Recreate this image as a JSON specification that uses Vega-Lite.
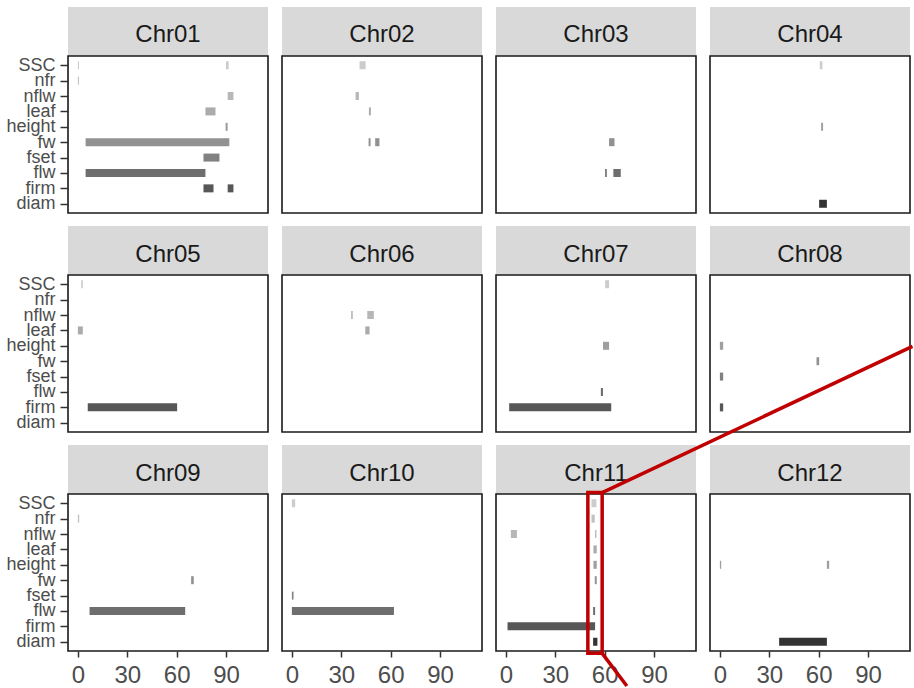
{
  "$schema": "https://vega.github.io/schema/vega-lite/v6.json",
  "padding": {"left": 5, "top": 7, "right": 0, "bottom": 0},
  "background": "white",
  "bounds": "flush",
  "columns": 4,
  "spacing": {"row": 0, "column": 14},
  "resolve": {"scale": {"x": "independent", "y": "independent"}},
  "data": {"values": [
    {"chr": "Chr01", "kind": "strip"}, {"chr": "Chr02", "kind": "strip"}, {"chr": "Chr03", "kind": "strip"}, {"chr": "Chr04", "kind": "strip"},
    {"chr": "Chr05", "kind": "strip"}, {"chr": "Chr06", "kind": "strip"}, {"chr": "Chr07", "kind": "strip"}, {"chr": "Chr08", "kind": "strip"},
    {"chr": "Chr09", "kind": "strip"}, {"chr": "Chr10", "kind": "strip"}, {"chr": "Chr11", "kind": "strip"}, {"chr": "Chr12", "kind": "strip"},
    {"chr": "Chr11", "kind": "zoom", "start": 49.8, "end": 58.5},
    {"chr": "Chr01", "kind": "seg", "trait": "SSC", "start": 0, "end": 0.7},
    {"chr": "Chr01", "kind": "seg", "trait": "SSC", "start": 90, "end": 91.6},
    {"chr": "Chr01", "kind": "seg", "trait": "nfr", "start": 0, "end": 0.7},
    {"chr": "Chr01", "kind": "seg", "trait": "nflw", "start": 91, "end": 94.5},
    {"chr": "Chr01", "kind": "seg", "trait": "leaf", "start": 77.5, "end": 83.6},
    {"chr": "Chr01", "kind": "seg", "trait": "height", "start": 89.7, "end": 91},
    {"chr": "Chr01", "kind": "seg", "trait": "fw", "start": 4.7, "end": 92},
    {"chr": "Chr01", "kind": "seg", "trait": "fset", "start": 76.3, "end": 86},
    {"chr": "Chr01", "kind": "seg", "trait": "flw", "start": 4.7, "end": 77.5},
    {"chr": "Chr01", "kind": "seg", "trait": "firm", "start": 76.3, "end": 82.4},
    {"chr": "Chr01", "kind": "seg", "trait": "firm", "start": 91, "end": 94.5},
    {"chr": "Chr02", "kind": "seg", "trait": "SSC", "start": 41.1, "end": 44.8},
    {"chr": "Chr02", "kind": "seg", "trait": "nflw", "start": 38.7, "end": 40.7},
    {"chr": "Chr02", "kind": "seg", "trait": "leaf", "start": 46.8, "end": 48},
    {"chr": "Chr02", "kind": "seg", "trait": "fw", "start": 46.6, "end": 47.8},
    {"chr": "Chr02", "kind": "seg", "trait": "fw", "start": 50.6, "end": 53.2},
    {"chr": "Chr03", "kind": "seg", "trait": "fw", "start": 62.7, "end": 66},
    {"chr": "Chr03", "kind": "seg", "trait": "flw", "start": 60.3, "end": 61.3},
    {"chr": "Chr03", "kind": "seg", "trait": "flw", "start": 65.3, "end": 69.8},
    {"chr": "Chr04", "kind": "seg", "trait": "SSC", "start": 60.7, "end": 62.3},
    {"chr": "Chr04", "kind": "seg", "trait": "height", "start": 61.5, "end": 62.7},
    {"chr": "Chr04", "kind": "seg", "trait": "diam", "start": 60.3, "end": 65},
    {"chr": "Chr05", "kind": "seg", "trait": "SSC", "start": 2, "end": 3},
    {"chr": "Chr05", "kind": "seg", "trait": "leaf", "start": 0, "end": 3},
    {"chr": "Chr05", "kind": "seg", "trait": "firm", "start": 6, "end": 60.3},
    {"chr": "Chr06", "kind": "seg", "trait": "nflw", "start": 36, "end": 37},
    {"chr": "Chr06", "kind": "seg", "trait": "nflw", "start": 45.8, "end": 49.8},
    {"chr": "Chr06", "kind": "seg", "trait": "leaf", "start": 44.6, "end": 47.2},
    {"chr": "Chr07", "kind": "seg", "trait": "SSC", "start": 60.3, "end": 62.7},
    {"chr": "Chr07", "kind": "seg", "trait": "height", "start": 59, "end": 62.7},
    {"chr": "Chr07", "kind": "seg", "trait": "flw", "start": 57.7, "end": 59},
    {"chr": "Chr07", "kind": "seg", "trait": "firm", "start": 2, "end": 64},
    {"chr": "Chr08", "kind": "seg", "trait": "height", "start": 0, "end": 2},
    {"chr": "Chr08", "kind": "seg", "trait": "fw", "start": 58.7, "end": 60.3},
    {"chr": "Chr08", "kind": "seg", "trait": "fset", "start": 0, "end": 2},
    {"chr": "Chr08", "kind": "seg", "trait": "firm", "start": 0, "end": 2},
    {"chr": "Chr09", "kind": "seg", "trait": "nfr", "start": 0, "end": 0.8},
    {"chr": "Chr09", "kind": "seg", "trait": "fw", "start": 68.8, "end": 70.4},
    {"chr": "Chr09", "kind": "seg", "trait": "flw", "start": 7.1, "end": 65.2},
    {"chr": "Chr10", "kind": "seg", "trait": "SSC", "start": 0, "end": 2},
    {"chr": "Chr10", "kind": "seg", "trait": "fset", "start": 0, "end": 1},
    {"chr": "Chr10", "kind": "seg", "trait": "flw", "start": 0, "end": 62},
    {"chr": "Chr11", "kind": "seg", "trait": "SSC", "start": 52, "end": 55},
    {"chr": "Chr11", "kind": "seg", "trait": "nfr", "start": 52, "end": 54},
    {"chr": "Chr11", "kind": "seg", "trait": "nflw", "start": 3, "end": 6.7},
    {"chr": "Chr11", "kind": "seg", "trait": "nflw", "start": 54.2, "end": 55},
    {"chr": "Chr11", "kind": "seg", "trait": "leaf", "start": 53.2, "end": 55.2},
    {"chr": "Chr11", "kind": "seg", "trait": "height", "start": 53.2, "end": 55.2},
    {"chr": "Chr11", "kind": "seg", "trait": "fw", "start": 54, "end": 55.2},
    {"chr": "Chr11", "kind": "seg", "trait": "flw", "start": 53, "end": 54.2},
    {"chr": "Chr11", "kind": "seg", "trait": "firm", "start": 1, "end": 54.2},
    {"chr": "Chr11", "kind": "seg", "trait": "diam", "start": 53, "end": 55.6},
    {"chr": "Chr12", "kind": "seg", "trait": "height", "start": 0, "end": 0.8},
    {"chr": "Chr12", "kind": "seg", "trait": "height", "start": 65, "end": 66.4},
    {"chr": "Chr12", "kind": "seg", "trait": "diam", "start": 36, "end": 65}
  ]},
  "concat": [
    {"width": 200, "height": 49, "view": {"stroke": null}, "transform": [{"filter": "datum.kind === 'strip' && datum.chr === 'Chr01'"}], "layer": [
      {"mark": {"type": "rect", "fill": "#D9D9D9"}, "encoding": {"x": {"datum": 0, "type": "quantitative", "scale": {"domain": [0, 1]}, "axis": null}, "x2": {"datum": 1}, "y": {"datum": 0, "type": "quantitative", "scale": {"domain": [0, 1]}, "axis": null}, "y2": {"datum": 1}}},
      {"mark": {"type": "text", "fontSize": 24, "color": "#1A1A1A"}, "encoding": {"x": {"datum": 0.5, "type": "quantitative"}, "y": {"datum": 0.42, "type": "quantitative"}, "text": {"field": "chr"}}}]},
    {"width": 200, "height": 49, "view": {"stroke": null}, "transform": [{"filter": "datum.kind === 'strip' && datum.chr === 'Chr02'"}], "layer": [
      {"mark": {"type": "rect", "fill": "#D9D9D9"}, "encoding": {"x": {"datum": 0, "type": "quantitative", "scale": {"domain": [0, 1]}, "axis": null}, "x2": {"datum": 1}, "y": {"datum": 0, "type": "quantitative", "scale": {"domain": [0, 1]}, "axis": null}, "y2": {"datum": 1}}},
      {"mark": {"type": "text", "fontSize": 24, "color": "#1A1A1A"}, "encoding": {"x": {"datum": 0.5, "type": "quantitative"}, "y": {"datum": 0.42, "type": "quantitative"}, "text": {"field": "chr"}}}]},
    {"width": 200, "height": 49, "view": {"stroke": null}, "transform": [{"filter": "datum.kind === 'strip' && datum.chr === 'Chr03'"}], "layer": [
      {"mark": {"type": "rect", "fill": "#D9D9D9"}, "encoding": {"x": {"datum": 0, "type": "quantitative", "scale": {"domain": [0, 1]}, "axis": null}, "x2": {"datum": 1}, "y": {"datum": 0, "type": "quantitative", "scale": {"domain": [0, 1]}, "axis": null}, "y2": {"datum": 1}}},
      {"mark": {"type": "text", "fontSize": 24, "color": "#1A1A1A"}, "encoding": {"x": {"datum": 0.5, "type": "quantitative"}, "y": {"datum": 0.42, "type": "quantitative"}, "text": {"field": "chr"}}}]},
    {"width": 200, "height": 49, "view": {"stroke": null}, "transform": [{"filter": "datum.kind === 'strip' && datum.chr === 'Chr04'"}], "layer": [
      {"mark": {"type": "rect", "fill": "#D9D9D9"}, "encoding": {"x": {"datum": 0, "type": "quantitative", "scale": {"domain": [0, 1]}, "axis": null}, "x2": {"datum": 1}, "y": {"datum": 0, "type": "quantitative", "scale": {"domain": [0, 1]}, "axis": null}, "y2": {"datum": 1}}},
      {"mark": {"type": "text", "fontSize": 24, "color": "#1A1A1A"}, "encoding": {"x": {"datum": 0.5, "type": "quantitative"}, "y": {"datum": 0.42, "type": "quantitative"}, "text": {"field": "chr"}}}]},

    {"width": 200, "height": 157, "transform": [{"filter": "datum.kind === 'seg' && datum.chr === 'Chr01'"}], "mark": {"type": "rule", "strokeWidth": 8},
     "encoding": {"x": {"field": "start", "type": "quantitative", "scale": {"domain": [-6, 115.5], "nice": false, "zero": false}, "axis": null}, "x2": {"field": "end"},
      "y": {"field": "trait", "type": "nominal", "scale": {"type": "point", "padding": 0.6, "domain": ["SSC", "nfr", "nflw", "leaf", "height", "fw", "fset", "flw", "firm", "diam"]}, "axis": {"title": null, "labelOverlap": false}},
      "color": {"field": "trait", "type": "nominal", "legend": null, "scale": {"domain": ["diam", "firm", "flw", "fset", "fw", "height", "leaf", "nflw", "nfr", "SSC"], "range": ["#333333", "#575757", "#6E6E6E", "#818181", "#919191", "#9F9F9F", "#ABABAB", "#B7B7B7", "#C2C2C2", "#CCCCCC"]}}}},
    {"width": 200, "height": 157, "transform": [{"filter": "datum.kind === 'seg' && datum.chr === 'Chr02'"}], "mark": {"type": "rule", "strokeWidth": 8},
     "encoding": {"x": {"field": "start", "type": "quantitative", "scale": {"domain": [-6, 115.5], "nice": false, "zero": false}, "axis": null}, "x2": {"field": "end"},
      "y": {"field": "trait", "type": "nominal", "scale": {"type": "point", "padding": 0.6, "domain": ["SSC", "nfr", "nflw", "leaf", "height", "fw", "fset", "flw", "firm", "diam"]}, "axis": null},
      "color": {"field": "trait", "type": "nominal", "legend": null}}},
    {"width": 200, "height": 157, "transform": [{"filter": "datum.kind === 'seg' && datum.chr === 'Chr03'"}], "mark": {"type": "rule", "strokeWidth": 8},
     "encoding": {"x": {"field": "start", "type": "quantitative", "scale": {"domain": [-6, 115.5], "nice": false, "zero": false}, "axis": null}, "x2": {"field": "end"},
      "y": {"field": "trait", "type": "nominal", "scale": {"type": "point", "padding": 0.6, "domain": ["SSC", "nfr", "nflw", "leaf", "height", "fw", "fset", "flw", "firm", "diam"]}, "axis": null},
      "color": {"field": "trait", "type": "nominal", "legend": null}}},
    {"width": 200, "height": 157, "transform": [{"filter": "datum.kind === 'seg' && datum.chr === 'Chr04'"}], "mark": {"type": "rule", "strokeWidth": 8},
     "encoding": {"x": {"field": "start", "type": "quantitative", "scale": {"domain": [-6, 115.5], "nice": false, "zero": false}, "axis": null}, "x2": {"field": "end"},
      "y": {"field": "trait", "type": "nominal", "scale": {"type": "point", "padding": 0.6, "domain": ["SSC", "nfr", "nflw", "leaf", "height", "fw", "fset", "flw", "firm", "diam"]}, "axis": null},
      "color": {"field": "trait", "type": "nominal", "legend": null}}},

    {"width": 200, "height": 62, "view": {"stroke": null}, "transform": [{"filter": "datum.kind === 'strip' && datum.chr === 'Chr05'"}], "layer": [
      {"mark": {"type": "rect", "fill": "#D9D9D9"}, "encoding": {"x": {"datum": 0, "type": "quantitative", "scale": {"domain": [0, 1]}, "axis": null}, "x2": {"datum": 1}, "y": {"datum": 0, "type": "quantitative", "scale": {"domain": [0, 1]}, "axis": null}, "y2": {"datum": 0.79}}},
      {"mark": {"type": "text", "fontSize": 24, "color": "#1A1A1A"}, "encoding": {"x": {"datum": 0.5, "type": "quantitative"}, "y": {"datum": 0.33, "type": "quantitative"}, "text": {"field": "chr"}}}]},
    {"width": 200, "height": 62, "view": {"stroke": null}, "transform": [{"filter": "datum.kind === 'strip' && datum.chr === 'Chr06'"}], "layer": [
      {"mark": {"type": "rect", "fill": "#D9D9D9"}, "encoding": {"x": {"datum": 0, "type": "quantitative", "scale": {"domain": [0, 1]}, "axis": null}, "x2": {"datum": 1}, "y": {"datum": 0, "type": "quantitative", "scale": {"domain": [0, 1]}, "axis": null}, "y2": {"datum": 0.79}}},
      {"mark": {"type": "text", "fontSize": 24, "color": "#1A1A1A"}, "encoding": {"x": {"datum": 0.5, "type": "quantitative"}, "y": {"datum": 0.33, "type": "quantitative"}, "text": {"field": "chr"}}}]},
    {"width": 200, "height": 62, "view": {"stroke": null}, "transform": [{"filter": "datum.kind === 'strip' && datum.chr === 'Chr07'"}], "layer": [
      {"mark": {"type": "rect", "fill": "#D9D9D9"}, "encoding": {"x": {"datum": 0, "type": "quantitative", "scale": {"domain": [0, 1]}, "axis": null}, "x2": {"datum": 1}, "y": {"datum": 0, "type": "quantitative", "scale": {"domain": [0, 1]}, "axis": null}, "y2": {"datum": 0.79}}},
      {"mark": {"type": "text", "fontSize": 24, "color": "#1A1A1A"}, "encoding": {"x": {"datum": 0.5, "type": "quantitative"}, "y": {"datum": 0.33, "type": "quantitative"}, "text": {"field": "chr"}}}]},
    {"width": 200, "height": 62, "view": {"stroke": null}, "transform": [{"filter": "datum.kind === 'strip' && datum.chr === 'Chr08'"}], "layer": [
      {"mark": {"type": "rect", "fill": "#D9D9D9"}, "encoding": {"x": {"datum": 0, "type": "quantitative", "scale": {"domain": [0, 1]}, "axis": null}, "x2": {"datum": 1}, "y": {"datum": 0, "type": "quantitative", "scale": {"domain": [0, 1]}, "axis": null}, "y2": {"datum": 0.79}}},
      {"mark": {"type": "text", "fontSize": 24, "color": "#1A1A1A"}, "encoding": {"x": {"datum": 0.5, "type": "quantitative"}, "y": {"datum": 0.33, "type": "quantitative"}, "text": {"field": "chr"}}}]},

    {"width": 200, "height": 157, "transform": [{"filter": "datum.kind === 'seg' && datum.chr === 'Chr05'"}], "mark": {"type": "rule", "strokeWidth": 8},
     "encoding": {"x": {"field": "start", "type": "quantitative", "scale": {"domain": [-6, 115.5], "nice": false, "zero": false}, "axis": null}, "x2": {"field": "end"},
      "y": {"field": "trait", "type": "nominal", "scale": {"type": "point", "padding": 0.6, "domain": ["SSC", "nfr", "nflw", "leaf", "height", "fw", "fset", "flw", "firm", "diam"]}, "axis": {"title": null, "labelOverlap": false}},
      "color": {"field": "trait", "type": "nominal", "legend": null}}},
    {"width": 200, "height": 157, "transform": [{"filter": "datum.kind === 'seg' && datum.chr === 'Chr06'"}], "mark": {"type": "rule", "strokeWidth": 8},
     "encoding": {"x": {"field": "start", "type": "quantitative", "scale": {"domain": [-6, 115.5], "nice": false, "zero": false}, "axis": null}, "x2": {"field": "end"},
      "y": {"field": "trait", "type": "nominal", "scale": {"type": "point", "padding": 0.6, "domain": ["SSC", "nfr", "nflw", "leaf", "height", "fw", "fset", "flw", "firm", "diam"]}, "axis": null},
      "color": {"field": "trait", "type": "nominal", "legend": null}}},
    {"width": 200, "height": 157, "transform": [{"filter": "datum.kind === 'seg' && datum.chr === 'Chr07'"}], "mark": {"type": "rule", "strokeWidth": 8},
     "encoding": {"x": {"field": "start", "type": "quantitative", "scale": {"domain": [-6, 115.5], "nice": false, "zero": false}, "axis": null}, "x2": {"field": "end"},
      "y": {"field": "trait", "type": "nominal", "scale": {"type": "point", "padding": 0.6, "domain": ["SSC", "nfr", "nflw", "leaf", "height", "fw", "fset", "flw", "firm", "diam"]}, "axis": null},
      "color": {"field": "trait", "type": "nominal", "legend": null}}},
    {"width": 200, "height": 157, "transform": [{"filter": "datum.kind === 'seg' && datum.chr === 'Chr08'"}], "mark": {"type": "rule", "strokeWidth": 8},
     "encoding": {"x": {"field": "start", "type": "quantitative", "scale": {"domain": [-6, 115.5], "nice": false, "zero": false}, "axis": null}, "x2": {"field": "end"},
      "y": {"field": "trait", "type": "nominal", "scale": {"type": "point", "padding": 0.6, "domain": ["SSC", "nfr", "nflw", "leaf", "height", "fw", "fset", "flw", "firm", "diam"]}, "axis": null},
      "color": {"field": "trait", "type": "nominal", "legend": null}}},

    {"width": 200, "height": 62, "view": {"stroke": null}, "transform": [{"filter": "datum.kind === 'strip' && datum.chr === 'Chr09'"}], "layer": [
      {"mark": {"type": "rect", "fill": "#D9D9D9"}, "encoding": {"x": {"datum": 0, "type": "quantitative", "scale": {"domain": [0, 1]}, "axis": null}, "x2": {"datum": 1}, "y": {"datum": 0, "type": "quantitative", "scale": {"domain": [0, 1]}, "axis": null}, "y2": {"datum": 0.79}}},
      {"mark": {"type": "text", "fontSize": 24, "color": "#1A1A1A"}, "encoding": {"x": {"datum": 0.5, "type": "quantitative"}, "y": {"datum": 0.33, "type": "quantitative"}, "text": {"field": "chr"}}}]},
    {"width": 200, "height": 62, "view": {"stroke": null}, "transform": [{"filter": "datum.kind === 'strip' && datum.chr === 'Chr10'"}], "layer": [
      {"mark": {"type": "rect", "fill": "#D9D9D9"}, "encoding": {"x": {"datum": 0, "type": "quantitative", "scale": {"domain": [0, 1]}, "axis": null}, "x2": {"datum": 1}, "y": {"datum": 0, "type": "quantitative", "scale": {"domain": [0, 1]}, "axis": null}, "y2": {"datum": 0.79}}},
      {"mark": {"type": "text", "fontSize": 24, "color": "#1A1A1A"}, "encoding": {"x": {"datum": 0.5, "type": "quantitative"}, "y": {"datum": 0.33, "type": "quantitative"}, "text": {"field": "chr"}}}]},
    {"width": 200, "height": 62, "view": {"stroke": null}, "transform": [{"filter": "datum.kind === 'strip' && datum.chr === 'Chr11'"}], "layer": [
      {"mark": {"type": "rect", "fill": "#D9D9D9"}, "encoding": {"x": {"datum": 0, "type": "quantitative", "scale": {"domain": [0, 1]}, "axis": null}, "x2": {"datum": 1}, "y": {"datum": 0, "type": "quantitative", "scale": {"domain": [0, 1]}, "axis": null}, "y2": {"datum": 0.79}}},
      {"mark": {"type": "text", "fontSize": 24, "color": "#1A1A1A"}, "encoding": {"x": {"datum": 0.5, "type": "quantitative"}, "y": {"datum": 0.33, "type": "quantitative"}, "text": {"field": "chr"}}}]},
    {"width": 200, "height": 62, "view": {"stroke": null}, "transform": [{"filter": "datum.kind === 'strip' && datum.chr === 'Chr12'"}], "layer": [
      {"mark": {"type": "rect", "fill": "#D9D9D9"}, "encoding": {"x": {"datum": 0, "type": "quantitative", "scale": {"domain": [0, 1]}, "axis": null}, "x2": {"datum": 1}, "y": {"datum": 0, "type": "quantitative", "scale": {"domain": [0, 1]}, "axis": null}, "y2": {"datum": 0.79}}},
      {"mark": {"type": "text", "fontSize": 24, "color": "#1A1A1A"}, "encoding": {"x": {"datum": 0.5, "type": "quantitative"}, "y": {"datum": 0.33, "type": "quantitative"}, "text": {"field": "chr"}}}]},

    {"width": 200, "height": 157, "transform": [{"filter": "datum.kind === 'seg' && datum.chr === 'Chr09'"}], "mark": {"type": "rule", "strokeWidth": 8},
     "encoding": {"x": {"field": "start", "type": "quantitative", "scale": {"domain": [-6, 115.5], "nice": false, "zero": false}, "axis": {"title": null, "values": [0, 30, 60, 90]}}, "x2": {"field": "end"},
      "y": {"field": "trait", "type": "nominal", "scale": {"type": "point", "padding": 0.6, "domain": ["SSC", "nfr", "nflw", "leaf", "height", "fw", "fset", "flw", "firm", "diam"]}, "axis": {"title": null, "labelOverlap": false}},
      "color": {"field": "trait", "type": "nominal", "legend": null}}},
    {"width": 200, "height": 157, "transform": [{"filter": "datum.kind === 'seg' && datum.chr === 'Chr10'"}], "mark": {"type": "rule", "strokeWidth": 8},
     "encoding": {"x": {"field": "start", "type": "quantitative", "scale": {"domain": [-6, 115.5], "nice": false, "zero": false}, "axis": {"title": null, "values": [0, 30, 60, 90]}}, "x2": {"field": "end"},
      "y": {"field": "trait", "type": "nominal", "scale": {"type": "point", "padding": 0.6, "domain": ["SSC", "nfr", "nflw", "leaf", "height", "fw", "fset", "flw", "firm", "diam"]}, "axis": null},
      "color": {"field": "trait", "type": "nominal", "legend": null}}},
    {"width": 200, "height": 157, "resolve": {"scale": {"y": "independent"}}, "layer": [
      {"transform": [{"filter": "datum.kind === 'seg' && datum.chr === 'Chr11'"}], "mark": {"type": "rule", "strokeWidth": 8},
       "encoding": {"x": {"field": "start", "type": "quantitative", "scale": {"domain": [-6, 115.5], "nice": false, "zero": false}, "axis": {"title": null, "values": [0, 30, 60, 90]}}, "x2": {"field": "end"},
        "y": {"field": "trait", "type": "nominal", "scale": {"type": "point", "padding": 0.6, "domain": ["SSC", "nfr", "nflw", "leaf", "height", "fw", "fset", "flw", "firm", "diam"]}, "axis": null},
        "color": {"field": "trait", "type": "nominal", "legend": null}}},
      {"transform": [{"filter": "datum.kind === 'zoom' && datum.chr === 'Chr11'"}], "layer": [
        {"mark": {"type": "rect", "filled": false, "stroke": "#C00000", "strokeWidth": 3.5},
         "encoding": {"x": {"field": "start", "type": "quantitative"}, "x2": {"field": "end"},
          "y": {"datum": -0.015, "type": "quantitative", "scale": {"domain": [0, 1], "nice": false, "zero": false}, "axis": null}, "y2": {"datum": 1.009}}},
        {"mark": {"type": "rule", "stroke": "#C00000", "strokeWidth": 3.5},
         "encoding": {"x": {"field": "end", "type": "quantitative"}, "x2": {"datum": 247},
          "y": {"datum": 1.009, "type": "quantitative"}, "y2": {"datum": 1.94}}},
        {"mark": {"type": "rule", "stroke": "#C00000", "strokeWidth": 3.5},
         "encoding": {"x": {"field": "end", "type": "quantitative"}, "x2": {"datum": 73.5},
          "y": {"datum": -0.015, "type": "quantitative"}, "y2": {"datum": -0.223}}}
      ]}
    ]},
    {"width": 200, "height": 157, "transform": [{"filter": "datum.kind === 'seg' && datum.chr === 'Chr12'"}], "mark": {"type": "rule", "strokeWidth": 8},
     "encoding": {"x": {"field": "start", "type": "quantitative", "scale": {"domain": [-6, 115.5], "nice": false, "zero": false}, "axis": {"title": null, "values": [0, 30, 60, 90]}}, "x2": {"field": "end"},
      "y": {"field": "trait", "type": "nominal", "scale": {"type": "point", "padding": 0.6, "domain": ["SSC", "nfr", "nflw", "leaf", "height", "fw", "fset", "flw", "firm", "diam"]}, "axis": null},
      "color": {"field": "trait", "type": "nominal", "legend": null}}}
  ],
  "config": {
    "font": "Liberation Sans",
    "view": {"stroke": "#1A1A1A", "strokeWidth": 1.6},
    "axis": {"grid": false, "domain": false, "labelColor": "#4D4D4D", "labelFont": "Liberation Sans", "tickColor": "#333333", "tickWidth": 1.5},
    "axisX": {"labelFontSize": 24, "tickSize": 6, "labelPadding": 6, "labelFlush": false},
    "axisY": {"labelFontSize": 18, "tickSize": 8, "labelPadding": 5},
    "text": {"font": "Liberation Sans"}
  }
}
